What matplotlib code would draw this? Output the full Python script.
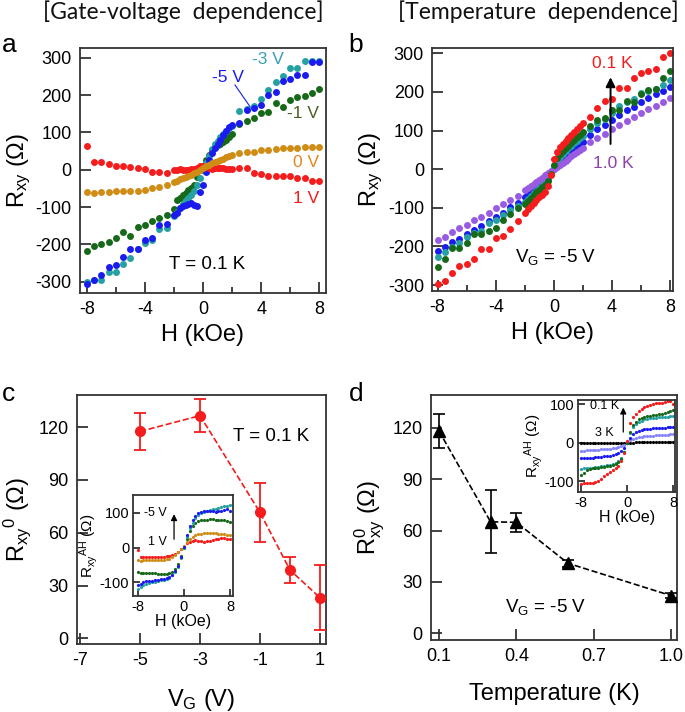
import matplotlib
matplotlib.use('Agg')
import matplotlib.pyplot as plt
from matplotlib.ticker import MultipleLocator

plt.rcParams['font.family'] = ['Liberation Sans', 'DejaVu Sans']
plt.rcParams['mathtext.default'] = 'regular'
plt.rcParams['axes.unicode_minus'] = False

# ---- field grid for panels a and b (kOe)
H = [-8, -7.5, -7, -6.5, -6, -5.5, -5, -4.5, -4, -3.5, -3, -2.5,
     -2, -1.8, -1.6, -1.4, -1.2, -1, -0.8, -0.6, -0.4, -0.2, 0,
     0.2, 0.4, 0.6, 0.8, 1, 1.2, 1.4, 1.6, 1.8, 2,
     2.5, 3, 3.5, 4, 4.5, 5, 5.5, 6, 6.5, 7, 7.5, 8]

# ---- panel a: Rxy at T = 0.1 K for several gate voltages
a_1V = [64, 21, 20, 16, 11, 11, 7, 4, 2, -6, -6, -10,
        0, -2, 1, 0, -1, 0, 1, 3, 5, 9, 10, 8, 4, 2, 4, 5, 6, 4, 2, 2, 3,
        4, 4, -10, -12, -16, -16, -18, -18, -23, -22, -30, -30]
a_0V = [-60, -62, -60, -60, -58, -57, -57, -56, -55, -50, -46, -40,
        -32, -29, -26, -23, -20, -17, -13, -9, -5, -1, 4, 9, 14, 18, 21, 24, 27, 30, 33, 36, 39,
        44, 47, 48, 53, 53, 55, 57, 59, 59, 60, 62, 62]
a_m1V = [-217, -203, -199, -194, -183, -168, -178, -154, -149, -137, -129, -120,
         -105, -80, -75, -68, -62, -55, -50, -42, -20, 0, 10, 25, 40, 52, 60, 65, 70, 75, 80, 87, 95,
         122, 131, 138, 151, 155, 178, 167, 187, 194, 198, 205, 216]
a_m3V = [-300, -296, -294, -273, -273, -253, -236, -211, -195, -189, -160, -157,
         -125, -112, -102, -92, -84, -76, -68, -58, -42, -22, 0, 18, 38, 55, 68, 78, 88, 97, 105, 112, 118,
         157, 162, 170, 189, 213, 236, 251, 272, 273, 291, 290, 292]
a_m5V = [-306, -296, -282, -260, -255, -233, -211, -211, -187, -182, -149, -146,
         -121, -115, -103, -98, -95, -92, -90, -95, -97, -60, -40, -5, 25, 45, 58, 68, 80, 92, 105, 115, 120,
         124, 160, 164, 173, 200, 209, 238, 242, 254, 254, 288, 288]

# ---- panel b: Rxy at VG = -5 V for several temperatures
b_01K = [-297, -290, -268, -252, -246, -233, -208, -208, -177, -173, -156, -134,
         -114, -104, -96, -88, -80, -73, -66, -58, -44, -15, 25, 45, 57, 65, 72, 80, 88, 95, 104, 112, 119,
         136, 158, 177, 182, 211, 211, 237, 248, 254, 260, 291, 300]
b_03K = [-253, -233, -205, -205, -192, -169, -169, -160, -153, -132, -117, -100,
         -90, -82, -75, -68, -60, -53, -46, -40, -30, -12, 10, 28, 40, 47, 54, 61, 68, 75, 82, 89, 95,
         112, 126, 132, 153, 153, 177, 175, 194, 205, 207, 237, 254]
b_04K = [-228, -214, -202, -192, -176, -166, -160, -140, -132, -119, -107, -95,
         -84, -77, -70, -63, -56, -49, -42, -35, -26, -12, 5, 20, 32, 40, 47, 54, 61, 68, 74, 80, 86,
         103, 119, 129, 145, 164, 175, 182, 197, 203, 207, 218, 231]
b_06K = [-211, -201, -188, -182, -169, -158, -147, -134, -123, -113, -99, -87,
         -71, -65, -59, -53, -46, -40, -33, -26, -18, -9, 0, 9, 18, 26, 33, 40, 46, 53, 59, 65, 71,
         89, 103, 115, 127, 140, 153, 162, 175, 185, 194, 203, 212]
b_10K = [-183, -175, -163, -153, -145, -132, -123, -113, -101, -90, -80, -69,
         -54, -49, -44, -38, -33, -27, -22, -16, -11, -5, 0, 5, 11, 16, 22, 27, 33, 38, 44, 49, 54,
         69, 80, 91, 103, 114, 125, 134, 145, 155, 164, 175, 185]

# ---- panel c: zero-field anomalous Hall resistance vs gate voltage
vg = [-5, -3, -1, 0, 1]
r0_vg = [117.5, 126.5, 71.5, 38.8, 23.1]
r0_vg_err = [10.3, 9.4, 17.0, 7.4, 18.5]

# ---- panel d: zero-field anomalous Hall resistance vs temperature
temp = [0.1, 0.3, 0.4, 0.6, 1.0]
r0_t = [118.1, 65.1, 64.8, 40.9, 22.0]
r0_t_err = [10.1, 18.4, 5.6, 2.0, 1.5]

# ---- inset field grid (kOe)
Hi = [-8, -7.5, -7, -6.5, -6, -5.5, -5, -4.5, -4, -3.5, -3, -2.5, -2, -1.5, -1, -0.5, 0,
      0.5, 1, 1.5, 2, 2.5, 3, 3.5, 4, 4.5, 5, 5.5, 6, 6.5, 7, 7.5, 8]

# inset c: Rxy^AH for gate voltages
c_1V = [-7, -28, -27, -27, -26, -27, -26, -26, -27, -26, -25, -24, -22, -18, -12, -5, 3,
        12, 17, 20, 21, 19, 18, 17, 18, 19, 22, 24, 26, 28, 27, 25, 24]
c_0V = [-36, -38, -37, -37, -36, -37, -36, -37, -36, -35, -34, -32, -28, -22, -14, -5, 5,
        16, 25, 31, 35, 38, 40, 41, 42, 42, 41, 41, 40, 39, 38, 37, 36]
c_m1V = [-70, -72, -72, -73, -73, -74, -74, -75, -76, -76, -76, -74, -70, -62, -48, -25, 0,
         25, 47, 62, 70, 75, 78, 80, 80, 81, 81, 80, 80, 79, 78, 76, 74]
c_m3V = [-118, -112, -108, -104, -102, -100, -98, -96, -94, -92, -90, -86, -80, -70, -55, -30, 0,
         30, 55, 72, 85, 93, 98, 103, 106, 108, 110, 112, 114, 116, 118, 120, 121]
c_m5V = [-108, -104, -100, -97, -95, -96, -93, -92, -90, -91, -88, -84, -78, -68, -52, -28, 2,
         35, 62, 80, 92, 98, 102, 104, 106, 106, 104, 103, 104, 106, 108, 110, 106]

# inset d: Rxy^AH for temperatures (0.1 K ... 3 K)
d_01K = [-108, -106, -105, -104, -104, -103, -100, -94, -87, -81, -76, -71, -66, -60, -48, -28, 5,
         50, 66, 74, 81, 87, 92, 95, 98, 100, 102, 102, 103, 104, 108, 108, 100]
d_03K = [-85, -78, -72, -68, -67, -66, -66, -64, -63, -62, -60, -58, -55, -50, -42, -25, 0,
         28, 45, 54, 60, 63, 66, 68, 70, 71, 72, 73, 74, 76, 78, 82, 85]
d_04K = [-68, -67, -66, -66, -65, -64, -63, -62, -61, -59, -57, -55, -52, -47, -40, -25, 0,
         26, 40, 48, 53, 57, 60, 62, 63, 64, 65, 66, 67, 67, 67, 68, 68]
d_06K = [-40, -40, -40, -39, -39, -38, -38, -37, -36, -35, -34, -32, -30, -27, -22, -13, 0,
         13, 22, 27, 30, 32, 34, 35, 36, 37, 38, 38, 39, 39, 40, 40, 40]
d_10K = [-21, -21, -20, -20, -20, -19, -19, -18, -18, -17, -16, -15, -14, -12, -10, -6, 0,
         6, 10, 12, 14, 15, 16, 17, 18, 18, 19, 19, 20, 20, 20, 21, 21]
d_3K = [-2, -2, -2, -2, -2, -2, -1, -1, -1, -1, -1, -1, -1, -1, 0, 0, 0,
        0, 0, 1, 1, 1, 1, 1, 1, 1, 1, 2, 2, 2, 2, 2, 2]

RED = '#f41c1c'
ORANGE = '#cf8d16'
GREEN = '#17691a'
TEAL = '#25a1a3'
BLUE = '#1b1bf0'
PURPLE = '#9a5be3'
LIGHTBLUE = '#8585ff'
FRAME = '#333333'


def style(ax, size=13, length=8):
    for s in ax.spines.values():
        s.set_color(FRAME)
        s.set_linewidth(1.3)
    ax.tick_params(which='major', direction='in', length=length, width=1.3,
                   color=FRAME, labelsize=size, pad=6)
    ax.tick_params(which='minor', direction='in', length=length / 2, width=1.3,
                   color=FRAME)


fig = plt.figure(figsize=(6.85, 7.12), dpi=100)

# ================= panel a
ax = fig.add_axes([0.1168, 0.5885, 0.3591, 0.3441])
for y, c in [(a_m1V, GREEN), (a_m3V, TEAL), (a_m5V, BLUE), (a_1V, RED), (a_0V, ORANGE)]:
    ax.plot(H, y, 'o', ms=5, color=c, mec='none')
ax.set_xlim(-8.46, 8.46)
ax.set_ylim(-330, 326)
ax.set_xticks([-8, -4, 0, 4, 8])
ax.xaxis.set_minor_locator(MultipleLocator(2))
ax.set_yticks([-300, -200, -100, 0, 100, 200, 300])
style(ax)
ax.set_xlabel('H (kOe)', fontsize=17)
ax.set_ylabel('R$_{xy}$ (Ω)', fontsize=17, labelpad=2)
ax.text(3.4, 294, '-3 V', color='#3a9fae', fontsize=12.5, va='center')
ax.text(0.6, 248, '-5 V', color=BLUE, fontsize=12.5, va='center')
ax.plot([2.2, 3.25], [227, 168], color=BLUE, lw=0.8)
ax.text(8, 151, '-1 V', color='#4b5e22', fontsize=12.5, va='center', ha='right')
ax.text(8, 20, '0 V', color='#e5861f', fontsize=12.5, va='center', ha='right')
ax.text(8, -78, '1 V', color=RED, fontsize=12.5, va='center', ha='right')
ax.text(0.3, -255, 'T = 0.1 K', fontsize=13.5, va='center', ha='center')
fig.text(0.268, 0.983, '[Gate-voltage  dependence]', fontsize=16.5, family='Lato',
         ha='center', va='center', color='#111111')
fig.text(0.003, 0.937, 'a', fontsize=19, va='center')

# ================= panel b
ax = fig.add_axes([0.6311, 0.5913, 0.3514, 0.3413])
for y, c in [(b_06K, BLUE), (b_04K, TEAL), (b_10K, PURPLE), (b_03K, GREEN), (b_01K, RED)]:
    ax.plot(H, y, 'o', ms=5, color=c, mec='none')
ax.set_xlim(-8.37, 8.2)
ax.set_ylim(-315.5, 313.7)
ax.set_xticks([-8, -4, 0, 4, 8])
ax.xaxis.set_minor_locator(MultipleLocator(2))
ax.set_yticks([-300, -200, -100, 0, 100, 200, 300])
style(ax)
ax.set_xlabel('H (kOe)', fontsize=17)
ax.set_ylabel('R$_{xy}$ (Ω)', fontsize=17, labelpad=2)
ax.annotate('', xy=(3.9, 245), xytext=(3.9, 58),
            arrowprops=dict(arrowstyle='-|>', color='k', lw=1.4, mutation_scale=14))
ax.text(2.6, 274, '0.1 K', color=RED, fontsize=12.5, va='center')
ax.text(2.7, 15, '1.0 K', color='#8d41ab', fontsize=12.5, va='center')
ax.text(0.1, -227, 'V$_G$ = -5 V', fontsize=13.5, va='center', ha='center')
fig.text(0.786, 0.983, '[Temperature  dependence]', fontsize=16.5, family='Lato',
         ha='center', va='center', color='#111111')
fig.text(0.508, 0.937, 'b', fontsize=19, va='center')

# ================= panel c
ax = fig.add_axes([0.112, 0.0955, 0.3639, 0.3497])
ax.errorbar(vg, r0_vg, yerr=r0_vg_err, fmt='o', ms=7, color=RED, ecolor=RED,
            elinewidth=1.3, capsize=4, capthick=1.3, zorder=3)
ax.plot(vg, r0_vg, '--', color=RED, lw=1.2)
ax.set_xlim(-7.11, 1.2)
ax.set_ylim(-3.2, 138.2)
ax.set_xticks([-7, -5, -3, -1, 1])
ax.set_yticks([0, 30, 60, 90, 120])
style(ax)
ax.set_xlabel('V$_G$ (V)', fontsize=17, labelpad=13)
ax.set_ylabel('R$_{xy}$$^{0}$ (Ω)', fontsize=17, labelpad=4)
ax.text(-0.64, 114.9, 'T = 0.1 K', fontsize=13.5, va='center', ha='center')
fig.text(0.003, 0.447, 'c', fontsize=19, va='center')

# inset c
ax = fig.add_axes([0.1946, 0.1629, 0.146, 0.1419])
for y, c in [(c_1V, RED), (c_0V, ORANGE), (c_m1V, GREEN), (c_m3V, TEAL), (c_m5V, BLUE)]:
    ax.plot(Hi, y, 'o', ms=2.3, color=c, mec='none')
ax.set_xlim(-8.76, 8.57)
ax.set_ylim(-139, 151)
ax.set_xticks([-8, 0, 8])
ax.set_yticks([-100, 0, 100])
style(ax, size=10.5, length=5)
ax.tick_params(pad=3)
ax.set_xlabel('H (kOe)', fontsize=11.5, labelpad=0)
ax.set_ylabel('R$_{xy}$$^{AH}$ (Ω)', fontsize=11, labelpad=0)
ax.annotate('', xy=(-1.7, 104), xytext=(-1.7, 16),
            arrowprops=dict(arrowstyle='-|>', color='k', lw=0.9, mutation_scale=9))
ax.text(-2.9, 100, '-5 V', fontsize=9, ha='right', va='center')
ax.text(-2.9, 16, '1 V', fontsize=9, ha='right', va='center')

# ================= panel d
ax = fig.add_axes([0.6292, 0.1011, 0.3591, 0.3441])
ax.errorbar(temp, r0_t, yerr=r0_t_err, fmt='^', ms=8, color='k', ecolor='k',
            elinewidth=1.2, capsize=4, capthick=1.2, zorder=3)
ax.plot(temp, r0_t, '--', color='k', lw=1.2)
ax.set_xlim(0.069, 1.023)
ax.set_ylim(-3.9, 139.1)
ax.set_xticks([0.1, 0.4, 0.7, 1.0])
ax.set_xticklabels(['0.1', '0.4', '0.7', '1.0'])
ax.set_yticks([0, 30, 60, 90, 120])
style(ax)
ax.set_xlabel('Temperature (K)', fontsize=17, labelpad=13)
ax.set_ylabel('R$^{0}_{xy}$ (Ω)', fontsize=17, labelpad=4)
ax.text(0.515, 15.5, 'V$_G$ = -5 V', fontsize=13.5, va='center', ha='center')
fig.text(0.51, 0.447, 'd', fontsize=19, va='center')

# inset d
ax = fig.add_axes([0.8442, 0.3086, 0.1412, 0.1296])
for y, c in [(d_3K, 'k'), (d_10K, LIGHTBLUE), (d_06K, BLUE), (d_04K, TEAL),
             (d_03K, GREEN), (d_01K, RED)]:
    ax.plot(Hi, y, 'o', ms=2.3, color=c, mec='none')
ax.set_xlim(-8.47, 8.3)
ax.set_ylim(-129, 110.4)
ax.set_xticks([-8, 0, 8])
ax.set_yticks([-100, 0, 100])
style(ax, size=10.5, length=5)
ax.tick_params(pad=3)
ax.set_xlabel('H (kOe)', fontsize=11.5, labelpad=0)
ax.set_ylabel('R$_{xy}$$^{AH}$ (Ω)', fontsize=11, labelpad=0)
ax.annotate('', xy=(-0.67, 98), xytext=(-0.67, 20),
            arrowprops=dict(arrowstyle='-|>', color='k', lw=0.9, mutation_scale=9))
ax.text(-6.4, 95, '0.1 K', fontsize=9, ha='left', va='center')
ax.text(-5.6, 24, '3 K', fontsize=9, ha='left', va='center')

fig.savefig('out.png', dpi=100)
